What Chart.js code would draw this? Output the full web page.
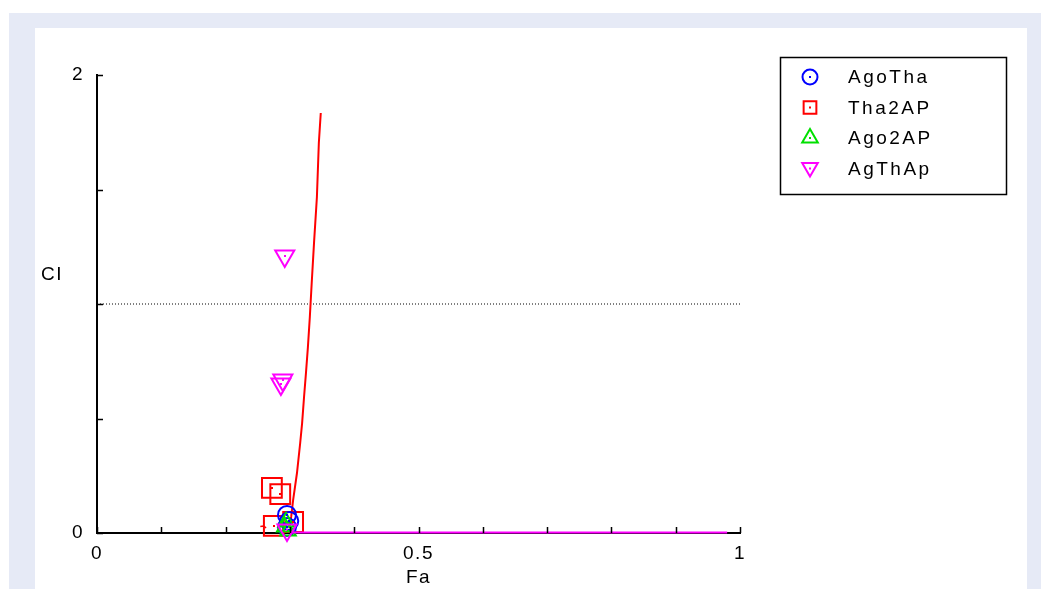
<!DOCTYPE html>
<html>
<head>
<meta charset="utf-8">
<script src="https://cdn.jsdelivr.net/npm/chart.js@4.4.0/dist/chart.umd.min.js"></script>
<style>
  html, body { margin: 0; padding: 0; background: #fff; overflow: hidden; }
  #outer { position: absolute; left: 9px; top: 13px; width: 1032px; height: 576px; background: #e6eaf6; }
  #panel { position: absolute; left: 35px; top: 28px; width: 992px; height: 561px; background: #fff; }
  #panel canvas { display: block; }
</style>
</head>
<body>
<div id="outer"></div>
<div id="panel"><canvas id="ci-chart"></canvas></div>
<script>
/* CI vs Fa plot: combination index points per series, plus fitted CI curve */

var FONT = "'Liberation Sans', Arial, sans-serif";

var SERIES_NAMES = ['AgoTha', 'Tha2AP', 'Ago2AP', 'AgThAp'];
var SERIES_COLORS = ['#0000ff', '#ff0000', '#00e000', '#ff00ff'];

var FA_LABELS = [0, 0.5, 1];
var CI_LABELS = [0, 2];

var agoThaFa = [0.2955, 0.299, 0.2955];
var agoThaCi = [0.079, 0.052, 0.026];

var tha2apFa = [0.272, 0.285, 0.275, 0.305];
var tha2apCi = [0.197, 0.170, 0.031, 0.048];

var ago2apFa = [0.294, 0.292, 0.297];
var ago2apCi = [0.048, 0.026, 0.009];

var agThApFa = [0.292, 0.289, 0.286, 0.2955];
var agThApCi = [1.21, 0.668, 0.651, 0.013];

// fitted CI curve (red)
var curveFa = [0.299, 0.302, 0.305, 0.311, 0.316, 0.319, 0.322, 0.325, 0.328, 0.331, 0.334, 0.3375, 0.342, 0.345, 0.348];
var curveCi = [0.022, 0.070, 0.144, 0.262, 0.393, 0.480, 0.594, 0.699, 0.812, 0.943, 1.096, 1.266, 1.467, 1.703, 1.834];
var stubFa = [0.254, 0.259, 0.263];
var stubCi = [0.028, 0.030, 0.022];

// flat CI curve (magenta)
var flatFa = [0.30, 0.98];
var flatCi = [0.002, 0.002];

// additivity reference line CI = 1
var refFa = [0, 1];
var refCi = [1, 1];

function toPoints(xs, ys) {
  var pts = [];
  for (var i = 0; i < xs.length; i++) pts.push({ x: xs[i], y: ys[i] });
  return pts;
}

function lineSet(xs, ys, color, width, dash) {
  return {
    type: 'line',
    data: toPoints(xs, ys),
    borderColor: color,
    borderWidth: width,
    borderDash: dash || [],
    pointRadius: 0,
    fill: false,
    tension: 0,
    clip: false
  };
}

function markerSet(xs, ys, color, style, radius, rotation) {
  return {
    type: 'scatter',
    data: toPoints(xs, ys),
    borderColor: color,
    backgroundColor: 'rgba(0,0,0,0)',
    borderWidth: 2,
    pointStyle: style,
    pointRadius: radius,
    pointRotation: rotation || 0,
    clip: false,
    isMarker: true
  };
}

var LEGEND_STYLES = [
  { style: 'circle', radius: 7.5, rotation: 0 },
  { style: 'rect', radius: 9, rotation: 0 },
  { style: 'triangle', radius: 9, rotation: 0 },
  { style: 'triangle', radius: 9, rotation: 180 }
];

var ciPlugin = {
  id: 'ciExtras',
  beforeDraw: function(chart) {
    chart.ctx.letterSpacing = '1.5px';
  },
  afterDraw: function(chart) {
    var ctx = chart.ctx;
    var xs = chart.scales.x, ys = chart.scales.y;
    var area = chart.chartArea;
    ctx.save();

    // inward tick marks
    ctx.strokeStyle = '#000';
    ctx.lineWidth = 1.5;
    ctx.beginPath();
    xs.ticks.forEach(function(t) {
      var px = Math.round(xs.getPixelForValue(t.value)) + 0.5;
      ctx.moveTo(px, area.bottom);
      ctx.lineTo(px, area.bottom - 6);
    });
    ys.ticks.forEach(function(t) {
      var py = Math.round(ys.getPixelForValue(t.value)) + 0.5;
      ctx.moveTo(area.left, py);
      ctx.lineTo(area.left + 6, py);
    });
    ctx.stroke();

    // center dots on markers
    chart.data.datasets.forEach(function(ds, i) {
      if (!ds.isMarker) return;
      ctx.fillStyle = ds.borderColor;
      chart.getDatasetMeta(i).data.forEach(function(el) {
        ctx.fillRect(Math.round(el.x) - 1, Math.round(el.y) - 1, 2, 2);
      });
    });

    // y axis title, horizontal
    ctx.fillStyle = '#000';
    ctx.font = '19px ' + FONT;
    ctx.textAlign = 'center';
    ctx.textBaseline = 'middle';
    ctx.fillText('CI', 17, 247);

    // boxed legend
    var lx = 745, ly = 29, lw = 226, lh = 137;
    ctx.lineWidth = 1.5;
    ctx.strokeStyle = '#000';
    ctx.strokeRect(lx + 0.5, ly + 0.5, lw, lh);
    ctx.letterSpacing = '2.5px';
    ctx.textAlign = 'left';
    for (var i = 0; i < SERIES_NAMES.length; i++) {
      var cy = ly + 20 + i * 30.5;
      var st = LEGEND_STYLES[i];
      ctx.strokeStyle = SERIES_COLORS[i];
      ctx.fillStyle = 'rgba(0,0,0,0)';
      ctx.lineWidth = 2;
      Chart.helpers.drawPoint(ctx, {
        pointStyle: st.style, radius: st.radius, rotation: st.rotation, borderWidth: 2
      }, lx + 30, cy + (st.rotation ? -1 : 0));
      ctx.fillStyle = SERIES_COLORS[i];
      ctx.fillRect(lx + 29, cy - 1, 2, 2);
      ctx.fillStyle = '#000';
      ctx.fillText(SERIES_NAMES[i], lx + 68, cy + 1);
    }
    ctx.restore();
  }
};

function isLabel(v, list) {
  for (var i = 0; i < list.length; i++) {
    if (Math.abs(v - list[i]) < 1e-9) return true;
  }
  return false;
}

new Chart(document.getElementById('ci-chart').getContext('2d'), {
  data: {
    datasets: [
      lineSet(flatFa, flatCi, SERIES_COLORS[3], 2),
      markerSet(agThApFa, agThApCi, SERIES_COLORS[3], 'triangle', 11, 180),
      markerSet(ago2apFa, ago2apCi, SERIES_COLORS[2], 'triangle', 9, 0),
      markerSet(agoThaFa, agoThaCi, SERIES_COLORS[0], 'circle', 9, 0),
      markerSet(tha2apFa, tha2apCi, SERIES_COLORS[1], 'rect', 14, 0),
      lineSet(curveFa, curveCi, SERIES_COLORS[1], 2),
      lineSet(stubFa, stubCi, SERIES_COLORS[1], 1.5),
      lineSet(refFa, refCi, '#000', 1, [1, 2])
    ]
  },
  options: {
    responsive: true,
    maintainAspectRatio: false,
    animation: false,
    events: [],
    layout: { padding: { top: 47, right: 287, bottom: 0, left: 0 } },
    plugins: { legend: { display: false }, tooltip: { enabled: false } },
    scales: {
      x: {
        type: 'linear',
        min: 0,
        max: 1,
        afterFit: function(s) { s.height = 56; },
        grid: { display: true, drawOnChartArea: false, drawTicks: false },
        border: { display: true, color: '#000', width: 2 },
        ticks: {
          stepSize: 0.1,
          autoSkip: false,
          maxRotation: 0,
          padding: 9,
          color: '#000',
          font: { family: FONT, size: 19 },
          callback: function(v) { return isLabel(v, FA_LABELS) ? String(Math.round(v * 10) / 10) : ''; }
        },
        title: {
          display: true,
          text: 'Fa',
          color: '#000',
          font: { family: FONT, size: 19 },
          padding: { top: 0, bottom: 0 }
        }
      },
      y: {
        type: 'linear',
        min: 0,
        max: 2,
        afterFit: function(s) { s.width = 62; },
        grid: { display: true, drawOnChartArea: false, drawTicks: false },
        border: { display: true, color: '#000', width: 2 },
        ticks: {
          stepSize: 0.5,
          autoSkip: false,
          padding: 13,
          color: '#000',
          font: { family: FONT, size: 19 },
          callback: function(v) { return isLabel(v, CI_LABELS) ? String(v) : ''; }
        }
      }
    }
  },
  plugins: [ciPlugin]
});
</script>
</body>
</html>
